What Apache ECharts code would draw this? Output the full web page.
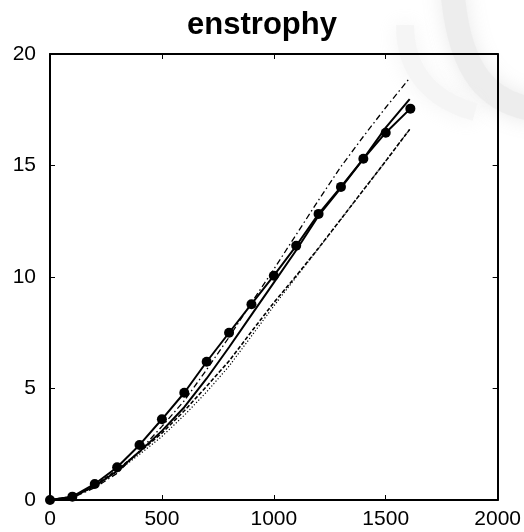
<!DOCTYPE html>
<html>
<head>
<meta charset="utf-8">
<script src="https://cdn.jsdelivr.net/npm/echarts@6/dist/echarts.min.js"></script>
<style>html,body{margin:0;padding:0;background:#fff;}#c{width:524px;height:532px;}</style>
</head>
<body>
<div id="c"></div>
<script>
// x positions
var xDots = [0,100,200,300,400,500,600,700,800,900,1000,1100,1200,1300,1400,1500,1610];
var xLines = [0,100,200,300,400,500,600,700,800,900,1000,1100,1200,1300,1400,1500,1607];
// series values
var ySolidDots = [0,0.15,0.72,1.47,2.47,3.62,4.81,6.2,7.5,8.78,10.06,11.4,12.83,14.04,15.3,16.47,17.55];
var ySolid     = [0,0.13,0.62,1.3,2.17,3.1,4.16,5.45,6.85,8.3,9.75,11.2,12.75,14.0,15.3,16.7,17.98];
var yDashDot   = [0,0.1,0.55,1.2,2.2,3.3,4.45,5.85,7.3,8.85,10.35,11.9,13.45,14.95,16.3,17.6,18.92];
var yDashed    = [0,0.15,0.65,1.35,2.15,3.0,4.0,5.1,6.23,7.55,8.85,10.05,11.3,12.6,13.9,15.2,16.62];
var yDotted    = [0,0.12,0.6,1.28,2.05,2.85,3.8,4.85,6.0,7.35,8.7,10.0,11.28,12.58,13.9,15.2,16.62];
// axis ticks
var xTicks = [0,500,1000,1500,2000];
var yTicks = [0,5,10,15,20];

function pairs(xs, ys){ return xs.map(function(x,i){ return [x, ys[i]]; }); }

var FONT = "'Liberation Sans', Arial, sans-serif";
function axisBase(){
  return {
    axisLine: {show: true, onZero: false, lineStyle: {color: '#000', width: 2}},
    axisTick: {show: true, inside: true, length: 5, lineStyle: {color: '#000', width: 1}},
    splitLine: {show: false}
  };
}
function mk(extra){ return Object.assign(axisBase(), extra); }
function plain(v){ return String(v); }

var chart = echarts.init(document.getElementById('c'), null, {renderer: 'canvas'});
chart.setOption({
  animation: false,
  backgroundColor: '#fff',
  title: {
    text: 'enstrophy', left: 'center', top: 5,
    textStyle: {fontFamily: FONT, fontSize: 31, fontWeight: 'bold', color: '#000'}
  },
  graphic: [
    {type: 'bezierCurve', z: -10, silent: true,
     shape: {x1: 452, y1: -15, cpx1: 458, cpy1: 75, cpx2: 490, cpy2: 105, x2: 540, y2: 110},
     style: {stroke: '#ececec', lineWidth: 24, fill: null, shadowBlur: 20, shadowColor: '#e8e8e8', opacity: 0.9}},
    {type: 'bezierCurve', z: -10, silent: true,
     shape: {x1: 405, y1: 25, cpx1: 405, cpy1: 70, cpx2: 430, cpy2: 100, x2: 475, y2: 112},
     style: {stroke: '#f4f4f4', lineWidth: 18, fill: null, shadowBlur: 20, shadowColor: '#f0f0f0', opacity: 0.8}}
  ],
  grid: {left: 50, right: 24, top: 54, bottom: 32, containLabel: false},
  xAxis: [
    mk({type: 'value', position: 'bottom', min: xTicks[0], max: xTicks[xTicks.length-1], interval: 500,
      axisLabel: {show: true, margin: 9, color: '#000', fontFamily: FONT, fontSize: 21, formatter: plain,
        showMinLabel: true, showMaxLabel: true}}),
    mk({type: 'value', position: 'top', min: xTicks[0], max: xTicks[xTicks.length-1], interval: 500,
      axisLabel: {show: false}})
  ],
  yAxis: [
    mk({type: 'value', position: 'left', min: yTicks[0], max: yTicks[yTicks.length-1], interval: 5,
      axisLabel: {show: true, margin: 14, color: '#000', fontFamily: FONT, fontSize: 21, formatter: plain,
        showMinLabel: true, showMaxLabel: true}}),
    mk({type: 'value', position: 'right', min: yTicks[0], max: yTicks[yTicks.length-1], interval: 5,
      axisLabel: {show: false}})
  ],
  series: [
    {type: 'line', name: 'dashdot', data: pairs(xLines, yDashDot), showSymbol: false, symbol: 'none',
     lineStyle: {color: '#000', width: 1.3, type: [6, 3, 1.5, 3]}},
    {type: 'line', name: 'dashed', data: pairs(xLines, yDashed), showSymbol: false, symbol: 'none',
     lineStyle: {color: '#000', width: 1.6, type: [4, 2]}},
    {type: 'line', name: 'dotted', data: pairs(xLines, yDotted), showSymbol: false, symbol: 'none',
     lineStyle: {color: '#000', width: 1.2, type: [1.2, 2]}},
    {type: 'line', name: 'solid', data: pairs(xLines, ySolid), showSymbol: false, symbol: 'none',
     lineStyle: {color: '#000', width: 2}},
    {type: 'line', name: 'solid-dots', data: pairs(xDots, ySolidDots), symbol: 'circle', symbolSize: 10,
     showSymbol: true, itemStyle: {color: '#000'}, lineStyle: {color: '#000', width: 2}}
  ]
});
</script>
</body>
</html>
